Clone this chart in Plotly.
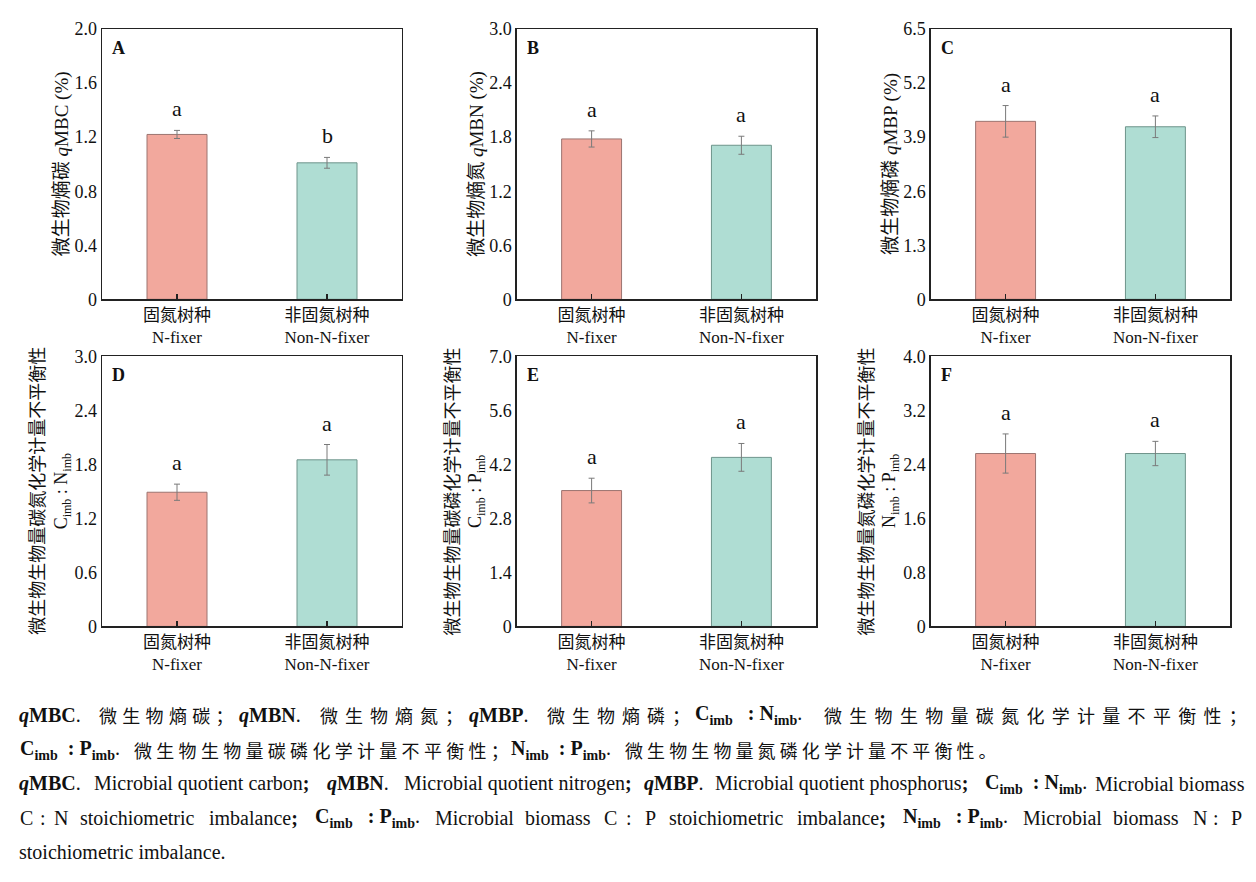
import plotly.graph_objects as go

W, H = 1256, 882

# ---------------- data ----------------
cat_cn = ["固氮树种", "非固氮树种"]
cat_en = ["N-fixer", "Non-N-fixer"]

qMBC = [1.22, 1.01]
qMBC_err = [0.03, 0.04]
qMBC_sig = ["a", "b"]

qMBN = [1.78, 1.71]
qMBN_err = [0.09, 0.10]
qMBN_sig = ["a", "a"]

qMBP = [4.28, 4.15]
qMBP_err = [0.38, 0.26]
qMBP_sig = ["a", "a"]

CN_imb = [1.49, 1.85]
CN_imb_err = [0.09, 0.17]
CN_imb_sig = ["a", "a"]

CP_imb = [3.52, 4.38]
CP_imb_err = [0.32, 0.36]
CP_imb_sig = ["a", "a"]

NP_imb = [2.56, 2.56]
NP_imb_err = [0.29, 0.18]
NP_imb_sig = ["a", "a"]

ticks_A = [0, 0.4, 0.8, 1.2, 1.6, 2.0]
ticks_B = [0, 0.6, 1.2, 1.8, 2.4, 3.0]
ticks_C = [0, 1.3, 2.6, 3.9, 5.2, 6.5]
ticks_D = [0, 0.6, 1.2, 1.8, 2.4, 3.0]
ticks_E = [0, 1.4, 2.8, 4.2, 5.6, 7.0]
ticks_F = [0, 0.8, 1.6, 2.4, 3.2, 4.0]
ticklabels_A = ["0", "0.4", "0.8", "1.2", "1.6", "2.0"]
ticklabels_B = ["0", "0.6", "1.2", "1.8", "2.4", "3.0"]
ticklabels_C = ["0", "1.3", "2.6", "3.9", "5.2", "6.5"]
ticklabels_D = ["0", "0.6", "1.2", "1.8", "2.4", "3.0"]
ticklabels_E = ["0", "1.4", "2.8", "4.2", "5.6", "7.0"]
ticklabels_F = ["0", "0.8", "1.6", "2.4", "3.2", "4.0"]

# ---------------- style ----------------
SERIF = "Liberation Serif, Noto Sans CJK SC, serif"
CJK = "Noto Sans CJK SC, sans-serif"
TXT = "#111111"
fills = ["#F2A89D", "#AFDDD3"]
edges = ["#9C7470", "#6E948B"]
AX = "#222222"

cols = [(102, 402), (516.7, 816.3), (930.7, 1230.3)]
rows = [(19.5, 296), (354.3, 630.7)]


def px(x):
    return x / W


def py(y):
    return 1 - y / H


def sub(t, fs=12, shift=4):
    # subscript via styled span (avoids zero-width reset spans)
    return f"<span style='font-size:{fs}px;baseline-shift:-{shift}px'>{t}</span>"


NB = "\u00a0"

panels = [
    dict(letter="A", vals=qMBC, err=qMBC_err, sig=qMBC_sig, tv=ticks_A, tt=ticklabels_A, r=0, c=0,
         title=["微生物熵碳 <i>q</i>MBC (%)"]),
    dict(letter="B", vals=qMBN, err=qMBN_err, sig=qMBN_sig, tv=ticks_B, tt=ticklabels_B, r=0, c=1,
         title=["微生物熵氮 <i>q</i>MBN (%)"]),
    dict(letter="C", vals=qMBP, err=qMBP_err, sig=qMBP_sig, tv=ticks_C, tt=ticklabels_C, r=0, c=2,
         title=["微生物熵磷 <i>q</i>MBP (%)"]),
    dict(letter="D", vals=CN_imb, err=CN_imb_err, sig=CN_imb_sig, tv=ticks_D, tt=ticklabels_D, r=1, c=0,
         title=["微生物生物量碳氮化学计量不平衡性", f"C{sub('imb')}{NB}:{NB}N{sub('imb')}"]),
    dict(letter="E", vals=CP_imb, err=CP_imb_err, sig=CP_imb_sig, tv=ticks_E, tt=ticklabels_E, r=1, c=1,
         title=["微生物生物量碳磷化学计量不平衡性", f"C{sub('imb')}{NB}:{NB}P{sub('imb')}"]),
    dict(letter="F", vals=NP_imb, err=NP_imb_err, sig=NP_imb_sig, tv=ticks_F, tt=ticklabels_F, r=1, c=2,
         title=["微生物生物量氮磷化学计量不平衡性", f"N{sub('imb')}{NB}:{NB}P{sub('imb')}"]),
]

fig = go.Figure()
annotations = []
layout = {}
xcat = [0, 1]
xticktext = [f"{cn}<br>{en}" for cn, en in zip(cat_cn, cat_en)]

for i, p in enumerate(panels):
    n = "" if i == 0 else str(i + 1)
    xa, ya = "x" + n, "y" + n
    x0, x1 = cols[p["c"]]
    y0, y1 = rows[p["r"]]
    for k in range(2):
        fig.add_trace(go.Bar(
            x=[xcat[k]], y=[p["vals"][k]], width=0.4,
            marker=dict(color=fills[k], line=dict(color=edges[k], width=1)),
            error_y=dict(type="data", array=[p["err"][k]], color="#7a7a7a", thickness=1, width=3),
            xaxis=xa, yaxis=ya, showlegend=False, hoverinfo="skip",
        ))
        annotations.append(dict(
            x=xcat[k], y=p["vals"][k] + p["err"][k], xref=xa, yref=ya,
            text=p["sig"][k], showarrow=False, yanchor="bottom", yshift=7,
            font=dict(family=SERIF, size=22, color=TXT),
        ))
    layout["xaxis" + n] = dict(
        domain=[px(x0), px(x1)], anchor=ya, range=[-0.5, 1.5],
        tickvals=xcat, ticktext=xticktext, ticks="inside", ticklen=5, tickwidth=1.2,
        tickcolor=AX, showline=True, linecolor=AX, linewidth=1.4, mirror=True,
        showgrid=False, zeroline=False, fixedrange=True,
        tickfont=dict(family=SERIF, size=17, color=TXT),
    )
    layout["yaxis" + n] = dict(
        domain=[py(y1), py(y0)], anchor=xa, range=[0, p["tv"][-1]],
        tickvals=p["tv"], ticktext=p["tt"], ticks="", showline=True, linecolor=AX,
        linewidth=1.4, mirror=True, showgrid=False, zeroline=False, fixedrange=True,
        tickfont=dict(family=SERIF, size=18, color=TXT),
    )
    # panel letter
    annotations.append(dict(
        x=px(x0 + 8), y=py(y0 + 19), xref="paper", yref="paper", xanchor="left", yanchor="middle",
        text=f"<b>{p['letter']}</b>", showarrow=False, font=dict(family=SERIF, size=18, color=TXT),
    ))
    # axis titles
    ymid = py((y0 + y1) / 2)
    if len(p["title"]) == 1:
        annotations.append(dict(
            x=px(x0 - 40), y=ymid, xref="paper", yref="paper", xanchor="center", yanchor="middle",
            text=p["title"][0], textangle=-90, showarrow=False,
            font=dict(family=SERIF, size=19, color=TXT),
        ))
    else:
        annotations.append(dict(
            x=px(x0 - 65.5), y=ymid, xref="paper", yref="paper", xanchor="center", yanchor="middle",
            text=p["title"][0], textangle=-90, showarrow=False,
            font=dict(family=CJK, size=18, color=TXT),
        ))
        annotations.append(dict(
            x=px(x0 - 40), y=ymid, xref="paper", yref="paper", xanchor="center", yanchor="middle",
            text=p["title"][1], textangle=-90, showarrow=False,
            font=dict(family=SERIF, size=18, color=TXT),
        ))

# ---------------- caption ----------------


def ls(t, s):
    return f"<span style='letter-spacing:{s}px'>{t}</span>"


def cap(x, y, text, family=SERIF, size=20):
    annotations.append(dict(
        x=px(x), y=py(y), xref="paper", yref="paper", xanchor="left", yanchor="middle",
        text=text, showarrow=False, font=dict(family=family, size=size, color=TXT),
    ))


def imb(a, b, gap=3):
    return f"<b>{a}{sub('imb', 14, 5)}{NB * gap}:{NB}{b}{sub('imb', 14, 5)}</b>."


L1, L2, L3, L4, L5 = 721.7, 756.7, 791.7, 826.7, 861.7
# line 1
cap(17, L1, "<b><i>q</i>MBC</b>.")
cap(96.7, L1, ls("微生物熵碳；", 5.3), CJK, 18)
cap(236.7, L1, "<b><i>q</i>MBN</b>.")
cap(318, L1, ls("微生物熵氮；", 7), CJK, 18)
cap(466.7, L1, "<b><i>q</i>MBP</b>.")
cap(545, L1, ls("微生物熵磷；", 7), CJK, 18)
cap(693.3, L1, imb("C", "N"))
cap(821.7, L1, ls("微生物生物量碳氮化学计量不平衡性；", 7.3), CJK, 18)
# line 2
cap(18.3, L2, imb("C", "P", 2))
cap(131.7, L2, ls("微生物生物量碳磷化学计量不平衡性；", 4.3), CJK, 18)
cap(509, L2, imb("N", "P", 2))
cap(623, L2, ls("微生物生物量氮磷化学计量不平衡性。", 4.1), CJK, 18)
# line 3
cap(17.3, L3, "<b><i>q</i>MBC</b>.")
cap(91.7, L3, "Microbial quotient carbon<b>;</b>")
cap(325, L3, "<b><i>q</i>MBN</b>.")
cap(401.7, L3, "Microbial quotient nitrogen<b>;</b>")
cap(641.7, L3, "<b><i>q</i>MBP</b>.")
cap(713, L3, "Microbial quotient phosphorus<b>;</b>")
cap(982.7, L3, imb("C", "N", 2))
cap(1092.7, L3, "Microbial biomass")
# line 4
cap(18.3, L4, "C")
cap(38, L4, ":")
cap(51.7, L4, "N")
cap(78.3, L4, "stoichiometric")
cap(206.7, L4, "imbalance<b>;</b>")
cap(313.3, L4, imb("C", "P"))
cap(433.3, L4, "Microbial")
cap(523.3, L4, "biomass")
cap(601.7, L4, "C")
cap(624, L4, ":")
cap(643.3, L4, "P")
cap(666.7, L4, "stoichiometric")
cap(795, L4, "imbalance<b>;</b>")
cap(901, L4, imb("N", "P"))
cap(1021, L4, "Microbial")
cap(1111, L4, "biomass")
cap(1191, L4, "N")
cap(1211, L4, ":")
cap(1229.3, L4, "P")
# line 5
cap(17.3, L5, "stoichiometric imbalance.")

fig.update_layout(
    width=W, height=H, autosize=False,
    margin=dict(l=0, r=0, t=0, b=0),
    paper_bgcolor="white", plot_bgcolor="white",
    bargap=0, annotations=annotations, showlegend=False,
    **layout,
)

post = (
    "document.documentElement.style.margin='0';"
    "document.documentElement.style.padding='0';"
    "document.documentElement.style.overflow='hidden';"
    "document.body.style.margin='0';"
    "document.body.style.padding='0';"
    "document.body.style.overflow='hidden';"
    "var gd=document.getElementsByClassName('plotly-graph-div')[0];"
    "var pw=gd.parentElement;"
    "pw.style.position='absolute';pw.style.left='0px';pw.style.top='0px';"
    "pw.style.width='1256px';pw.style.height='882px';pw.style.overflow='hidden';"
    "document.body.style.height='882px';document.documentElement.style.height='882px';"
)

fig.write_html("out.html", include_plotlyjs=True,
               config={"displayModeBar": False, "staticPlot": True, "responsive": False},
               post_script=post)
